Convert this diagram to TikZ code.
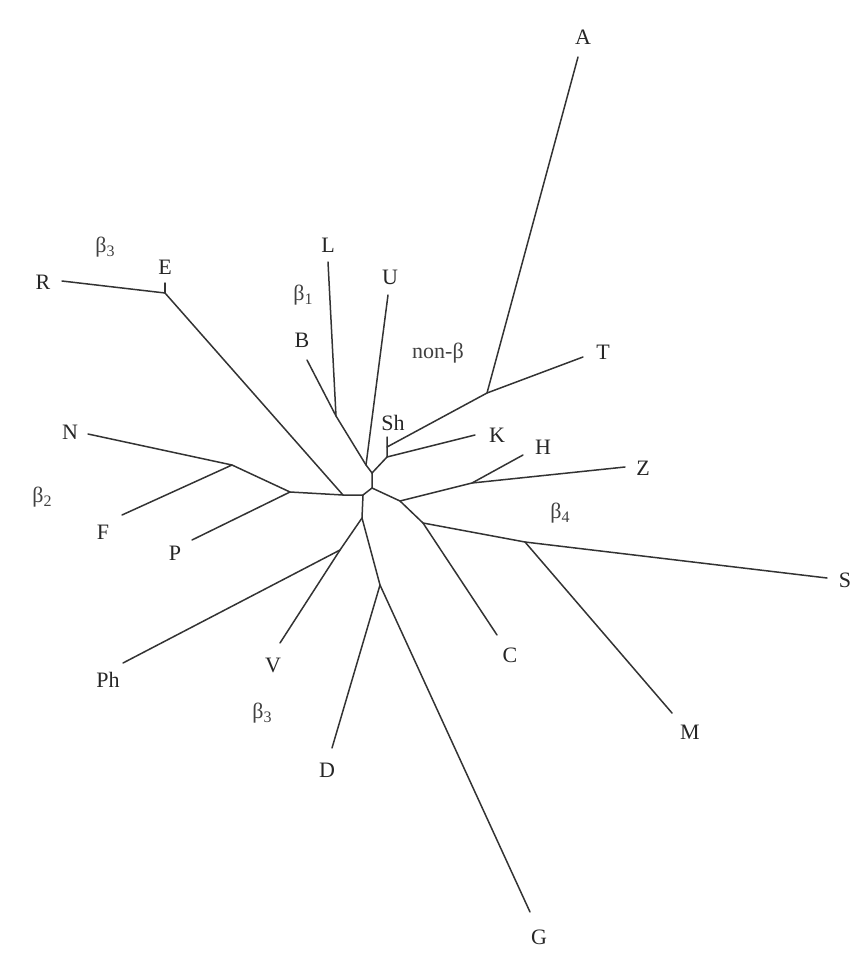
\documentclass[tikz,border=0pt]{standalone}
\usepackage{fontspec}
\setmainfont{Liberation Serif}
\usetikzlibrary{positioning}
\newcommand\betasub[1]{β\raisebox{-0.45ex}{\fontsize{16}{16}\selectfont #1}}

\begin{document}
\begin{tikzpicture}[
  x=1pt, y=-1pt,
  font=\fontsize{22}{24}\selectfont,
  leaf/.style={inner sep=0pt, text=black!85},
  grp/.style={inner sep=0pt, text=black!75},
  br/.style={draw=black!80, line width=1.5pt, line cap=round, line join=round}
]
\useasboundingbox (0,0) rectangle (857,963);
% inner forks
\coordinate (j1) at (372,473);
\coordinate (j2) at (372,488);
\coordinate (j3) at (363,495);
\coordinate (j4) at (362,518);
\coordinate (jSh) at (387,437);
\coordinate (jT) at (387,447);
\coordinate (jK) at (387,457);
\coordinate (jA) at (487,393);
\coordinate (jU) at (366,465);
\coordinate (jL) at (336,416);
\coordinate (jE) at (343,495);
\coordinate (jEb) at (165,293);
\coordinate (jP) at (290,492);
\coordinate (jNF) at (232,465);
\coordinate (jZ) at (400,501);
\coordinate (jH) at (472,483);
\coordinate (jS) at (423,523);
\coordinate (jM) at (525,542);
\coordinate (jPh) at (340,550);
\coordinate (jD) at (380,585);
% branch tips
\coordinate (eA) at (578,57);
\coordinate (eT) at (583,357);
\coordinate (eK) at (475,435);
\coordinate (eH) at (523,455);
\coordinate (eZ) at (625,467);
\coordinate (eS) at (827,578);
\coordinate (eM) at (672,713);
\coordinate (eC) at (497,635);
\coordinate (eG) at (530,912);
\coordinate (eD) at (332,748);
\coordinate (eV) at (280,643);
\coordinate (ePh) at (123,663);
\coordinate (eP) at (192,540);
\coordinate (eF) at (122,515);
\coordinate (eN) at (88,434);
\coordinate (eR) at (62,281);
\coordinate (eE) at (165,283);
\coordinate (eL) at (328,262);
\coordinate (eB) at (307,360);
\coordinate (eU) at (388,295);
% labels
\node[leaf] (A) at (583,37) {A};
\node[leaf] (T) at (603,352) {T};
\node[leaf] (K) at (497,435) {K};
\node[leaf] (H) at (543,447) {H};
\node[leaf] (Z) at (643,468) {Z};
\node[leaf] (S) at (845,580) {S};
\node[leaf] (M) at (690,732) {M};
\node[leaf] (C) at (510,655) {C};
\node[leaf] (G) at (539,937) {G};
\node[leaf] (D) at (327,770) {D};
\node[leaf] (V) at (273,665) {V};
\node[leaf] (Ph) at (108,680) {Ph};
\node[leaf] (P) at (175,553) {P};
\node[leaf] (F) at (103,532) {F};
\node[leaf] (N) at (70,432) {N};
\node[leaf] (R) at (43,282) {R};
\node[leaf] (E) at (165,267) {E};
\node[leaf] (L) at (328,245) {L};
\node[leaf] (B) at (302,340) {B};
\node[leaf] (U) at (390,277) {U};
\node[leaf] (Sh) at (393,423) {Sh};
% groups
\node[grp] (b3top) at (105,247) {\betasub{3}};
\node[grp] (b1) at (303,295) {\betasub{1}};
\node[grp] (nonb) at (438,353) {non-β};
\node[grp] (b2) at (42,497) {\betasub{2}};
\node[grp] (b4) at (560,513) {\betasub{4}};
\node[grp] (b3bot) at (262,713) {\betasub{3}};
% tree
\draw[br] (eE) -- (jEb);
\draw[br] (eR) -- (jEb) -- (jE);
\draw[br] (eN) -- (jNF) -- (eF);
\draw[br] (jNF) -- (jP) -- (eP);
\draw[br] (jP) -- (jE) -- (j3);
\draw[br] (eB) -- (jL) -- (jU) -- (j1);
\draw[br] (eL) -- (jL);
\draw[br] (eU) -- (jU);
\draw[br] (j1) -- (jK) -- (jT) -- (jSh);
\draw[br] (jT) -- (jA) -- (eT);
\draw[br] (jA) -- (eA);
\draw[br] (jK) -- (eK);
\draw[br] (j1) -- (j2) -- (j3);
\draw[br] (j2) -- (jZ) -- (jS) -- (eC);
\draw[br] (jZ) -- (jH) -- (eZ);
\draw[br] (jH) -- (eH);
\draw[br] (jS) -- (jM) -- (eS);
\draw[br] (jM) -- (eM);
\draw[br] (j3) -- (j4) -- (jPh) -- (ePh);
\draw[br] (jPh) -- (eV);
\draw[br] (j4) -- (jD) -- (eG);
\draw[br] (jD) -- (eD);
\end{tikzpicture}
\end{document}
